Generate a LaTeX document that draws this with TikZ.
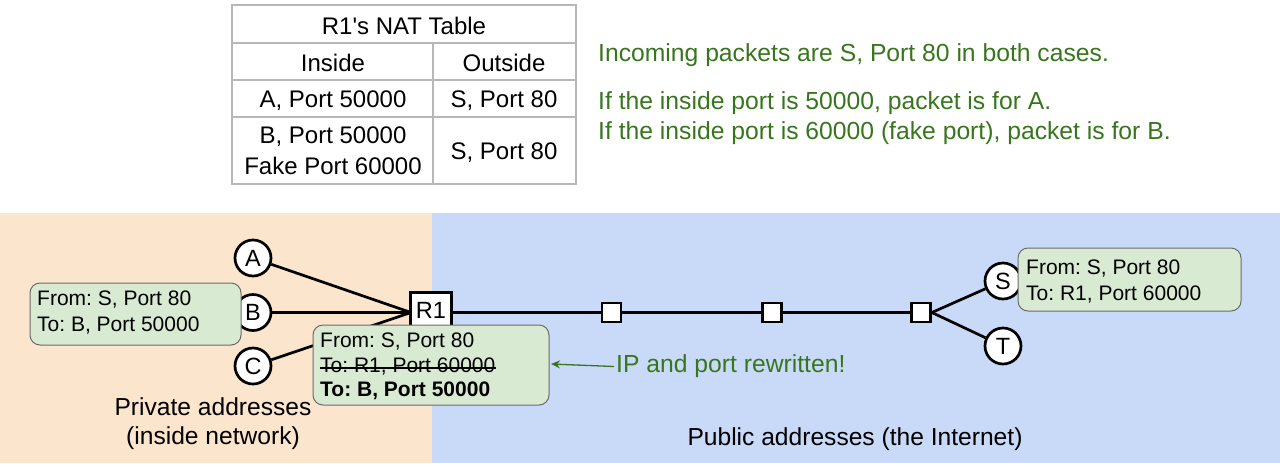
\documentclass[tikz,border=0pt]{standalone}
\usepackage{fontspec}
\setmainfont{Liberation Sans}
\usetikzlibrary{arrows.meta}
\pgfdeclarelayer{bg}
\pgfdeclarelayer{edges}
\pgfsetlayers{bg,edges,main}
\definecolor{gtxt}{HTML}{38761D}
\definecolor{orbg}{HTML}{FCE5CD}
\definecolor{blbg}{HTML}{C9DAF8}
\definecolor{callfill}{HTML}{D9EAD3}
\definecolor{callline}{HTML}{6B6B6B}
\definecolor{tabline}{HTML}{B7B7B7}
\newcommand\straightquote{\XeTeXglyph\XeTeXcharglyph"0027\relax}
\tikzset{
  host/.style={circle,draw=black,line width=2.7pt,fill=white,minimum size=36pt,inner sep=0pt,font=\fontsize{23.5}{25}\selectfont},
  router/.style={draw=black,line width=2.7pt,fill=white,minimum size=19pt,inner sep=0pt},
  link/.style={line width=2.7pt,line join=miter},
  callout/.style={draw=callline,line width=1pt,fill=callfill,rounded corners=10pt},
  ctext/.style={anchor=west,inner sep=0pt,yshift=-2pt,font=\fontsize{21}{24}\selectfont},
  ttext/.style={inner sep=0pt,yshift=-2pt,font=\fontsize{24}{26}\selectfont},
  gtext/.style={anchor=west,inner sep=0pt,yshift=-2.5pt,text=gtxt,font=\fontsize{24.7}{28}\selectfont},
  btext/.style={inner sep=0pt,yshift=-2pt,font=\fontsize{24.6}{29}\selectfont},
}
\frenchspacing
\begin{document}
\begin{tikzpicture}[x=1pt,y=-1pt]
\useasboundingbox (0,0) rectangle (1280,467);
% backgrounds
\begin{pgfonlayer}{bg}
\fill[orbg] (0,213) rectangle (432,463);
\fill[blbg] (432,213) rectangle (1280,463);
\end{pgfonlayer}
% table
\draw[tabline,line width=1.2pt] (232,5) rectangle (576,184);
\draw[tabline,line width=1.2pt] (232,43) -- (576,43);
\draw[tabline,line width=1.2pt] (232,80) -- (576,80);
\draw[tabline,line width=1.2pt] (232,117) -- (576,117);
\draw[tabline,line width=1.2pt] (433,43) -- (433,184);
\node[ttext] (ttitle) at (404,24) {R1\straightquote s NAT Table};
\node[ttext] (tin) at (333,61) {Inside};
\node[ttext] (tout) at (504,61) {Outside};
\node[ttext] (ta) at (333,99) {A, Port 50000};
\node[ttext] (tas) at (504,99) {S, Port 80};
\node[ttext] (tb1) at (333,135) {B, Port 50000};
\node[ttext] (tb2) at (333,164) {Fake Port 60000};
\node[ttext] (tbs) at (504,151) {S, Port 80};
% green notes
\node[gtext] (n1) at (598,53) {Incoming packets are S, Port 80 in both cases.};
\node[gtext] (n2) at (598,101) {If the inside port is 50000, packet is for A.};
\node[gtext] (n3) at (598,131) {If the inside port is 60000 (fake port), packet is for B.};
% network
\node[host] (A) at (253,258) {A};
\node[host] (B) at (253,312.5) {B};
\node[host] (C) at (253,366) {C};
\node[router,minimum width=41pt,minimum height=35pt,font=\fontsize{23.5}{25}\selectfont] (R1) at (431,310) {R1};
\node[router] (r2) at (611.5,312.5) {};
\node[router] (r3) at (772,312.5) {};
\node[router] (r4) at (921,312.5) {};
\node[host] (S) at (1003,281) {S};
\node[host] (T) at (1003,346) {T};
\coordinate (R1in) at (411,312.5);
\begin{pgfonlayer}{edges}
\draw[link] (A) -- (R1in);
\draw[link] (B) -- (R1in);
\draw[link] (C) -- (R1in);
\draw[link] (R1.east |- r2) -- (r2);
\draw[link] (r2) -- (r3);
\draw[link] (r3) -- (r4);
\draw[link] (r4.east) -- (S);
\draw[link] (r4.east) -- (T);
\end{pgfonlayer}
% callouts
\draw[callout] (30,283) rectangle (241,345);
\node[ctext] (cl1) at (37,298) {From: S, Port 80};
\node[ctext] (cl2) at (37,324) {To: B, Port 50000};
\draw[callout] (313,325) rectangle (549,405);
\node[ctext] (cm1) at (320,340) {From: S, Port 80};
\node[ctext] (cm2) at (320,365) {To: R1, Port 60000};
\draw[line width=1.2pt] ([yshift=-1pt]cm2.west) -- ([yshift=-1pt]cm2.east);
\node[ctext,font=\fontsize{21}{24}\selectfont\bfseries] (cm3) at (320,389) {To: B, Port 50000};
\draw[callout] (1018,248) rectangle (1241,311);
\node[ctext] (cr1) at (1026,267) {From: S, Port 80};
\node[ctext] (cr2) at (1026,293) {To: R1, Port 60000};
% annotation
\node[gtext] (rw) at (616,364) {IP and port rewritten!};
\coordinate (rwend) at (551,364);
\draw[gtxt,line width=1.3pt,-{Stealth[length=9pt,width=8pt]}] ([xshift=-2pt]rw.west) -- (rwend);
% labels
\node[btext,align=center] (priv) at (213,422) {Private addresses\\(inside network)};
\node[btext] (pub) at (855,437) {Public addresses (the Internet)};
\end{tikzpicture}
\end{document}
